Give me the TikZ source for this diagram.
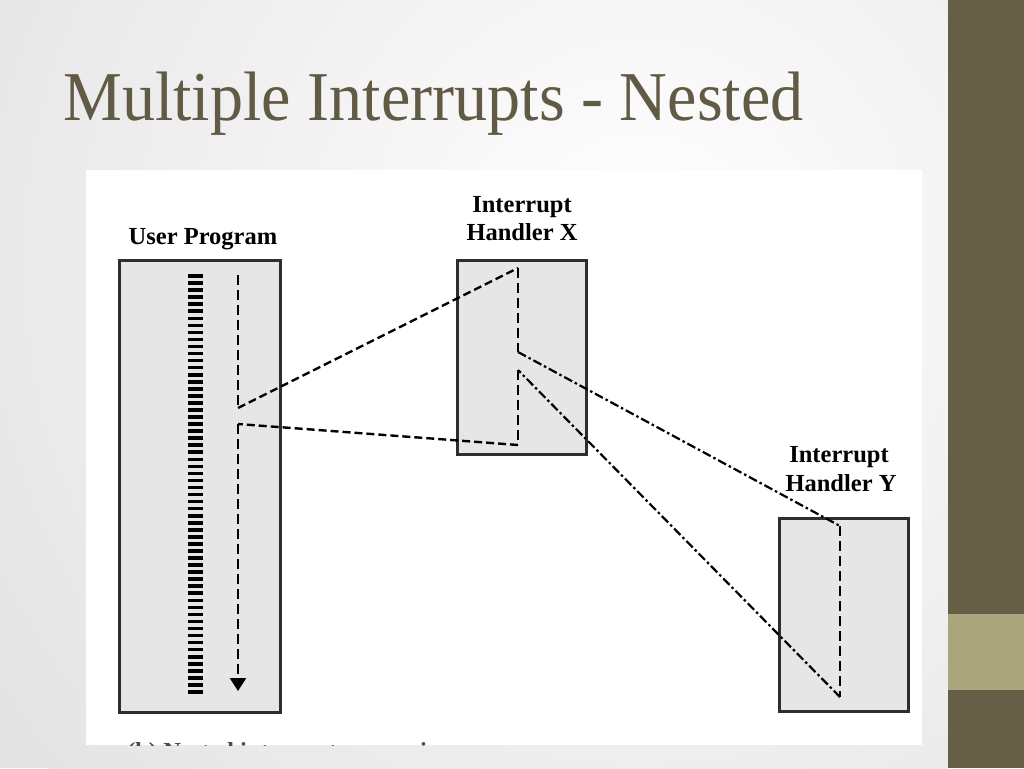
\documentclass[tikz,border=0pt]{standalone}
\usepackage{fontspec}
\setmainfont{Liberation Serif}
\usetikzlibrary{arrows.meta}
\definecolor{titlecol}{HTML}{615A45}
\definecolor{sidebar}{HTML}{665F48}
\definecolor{band}{HTML}{A9A57C}
\definecolor{boxfill}{HTML}{E6E6E6}
\definecolor{boxline}{HTML}{2E2E2E}
\definecolor{bggray}{HTML}{E4E4E4}
\tikzset{
  box/.style={draw=boxline, line width=2.6pt, fill=boxfill, inner sep=0pt, anchor=north west},
  lbl/.style={font=\fontsize{24.5}{28}\selectfont\bfseries, inner sep=0pt, anchor=base},
  flowv/.style={line width=2.6pt, dash pattern=on 10pt off 5pt},
  flowd/.style={line width=2.4pt, dash pattern=on 8pt off 4pt},
  flowdd/.style={line width=2.2pt, dash pattern=on 9pt off 3pt on 2.5pt off 3pt},
  stripe/.style={fill=black}
}
\begin{document}
\begin{tikzpicture}[x=1pt,y=-1pt]
\useasboundingbox (0,0) rectangle (1024,768);
% slide background
\fill[bggray] (0,0) rectangle (948,768);
\begin{scope}
\clip (0,0) rectangle (948,768);
\shade[inner color=white, outer color=bggray] (640,260) circle (780);
\end{scope}
\fill[sidebar] (948,0) rectangle (1024,768);
\fill[band] (948,614) rectangle (1024,690);
% title
\node[anchor=base west, inner sep=0pt, text=titlecol, font=\fontsize{70}{74}\selectfont] (title) at (63,120) {\scalebox{0.945}[1]{Multiple Interrupts - Nested}};
% embedded figure area
\fill[white] (86,170) rectangle (922,745);
% boxes
\node[box, minimum width=161pt, minimum height=452pt] (user) at (118,259) {};
\node[box, minimum width=129pt, minimum height=194pt] (hx) at (456,259) {};
\node[box, minimum width=129pt, minimum height=193pt] (hy) at (778,517) {};
% labels
\node[lbl] (luser) at (203,244) {User Program};
\node[lbl] (lx1) at (522,212) {Interrupt};
\node[lbl] (lx2) at (522,240) {Handler X};
\node[lbl] (ly1) at (839,462) {Interrupt};
\node[lbl] (ly2) at (841,491) {Handler Y};
% instruction stripes
\foreach \i in {0,...,59} {
  \fill[stripe] (188,{276+7.05*\i-1.8}) rectangle (203,{276+7.05*\i+1.8});
}
% flow coordinates
\coordinate (u0) at (238,275);
\coordinate (u1) at (238,408);
\coordinate (u2) at (238,424);
\coordinate (u3) at (238,691);
\coordinate (x0) at (518,268);
\coordinate (x1) at (518,352);
\coordinate (x2) at (518,370);
\coordinate (x3) at (518,445);
\coordinate (y0) at (840,526);
\coordinate (y1) at (840,697);
% flow of control
\draw[flowv] (u0) -- (u1);
\draw[flowd] (u1) -- (x0);
\draw[flowv] (x0) -- (x1);
\draw[flowdd] (x1) -- (y0);
\draw[flowv] (y0) -- (y1);
\draw[flowdd] (y1) -- (x2);
\draw[flowv] (x2) -- (x3);
\draw[flowd] (x3) -- (u2);
\draw[flowv, -{Triangle[width=16pt,length=13pt]}] (u2) -- (u3);
% caption, cut off at the figure edge
\begin{scope}
\clip (86,170) rectangle (922,745);
\node[anchor=base west, inner sep=0pt, font=\fontsize{24.5}{28}\selectfont\bfseries, text=black!70] (cap) at (127,759) {(b) Nested interrupt processing};
\end{scope}
\end{tikzpicture}
\end{document}
